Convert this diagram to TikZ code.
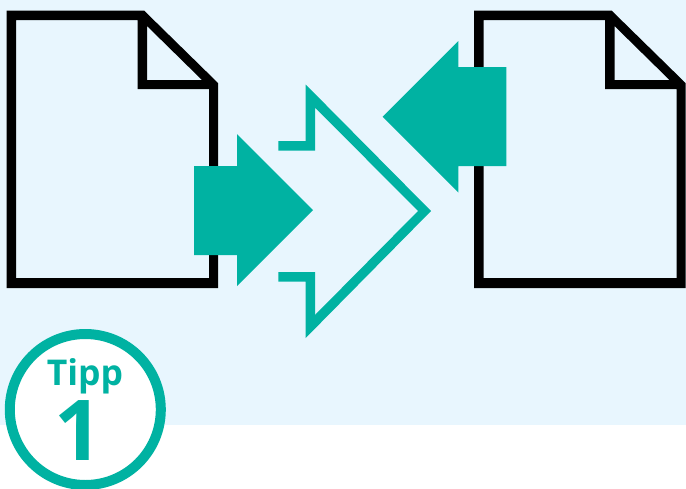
\documentclass[tikz,border=0pt]{standalone}
\usepackage{fontspec}
\setmainfont{Open Sans}
\definecolor{teal1}{HTML}{00B2A2}
\definecolor{sky1}{HTML}{E8F6FE}
\tikzset{
  x=1pt,y=-1pt,
  tealfill/.style={fill=teal1,draw=none},
  docline/.style={fill=black,draw=none,even odd rule},
}
\newcommand{\docshape}[1]{%
  \fill[docline,shift={(#1,0)}]
    (6.5,10.5)--(144,10.5)--(218,83)--(218,288)--(6.5,288)--cycle
    (16,20)--(137.5,20)--(137.5,89)--(209,89)--(209,278)--(16,278)--cycle
    (147,26)--(147,80)--(202,80)--cycle;}
\begin{document}
\begin{tikzpicture}
\useasboundingbox (0,0) rectangle (686,488);
\fill[white] (0,0) rectangle (686,488);
\fill[sky1] (0,0) rectangle (686,425);
\docshape{0}
\docshape{467.5}
\fill[tealfill] (194,166)--(237,166)--(237,134)--(313,210)--(237,286)--(237,255)--(194,255)--cycle;
\fill[tealfill] (506.3,67)--(458.3,67)--(458.3,41)--(382.7,116.7)--(458.3,192.5)--(458.3,166)--(506.3,166)--cycle;
\fill[tealfill] (278.3,141)--(305.7,141)--(305.7,84.5)--(431,211)--(305.7,338)--(305.7,281.7)--(278.3,281.7)--(278.3,272)--(315,272)--(315,315)--(418,211)--(315,107.5)--(315,150.7)--(278.3,150.7)--cycle;
\draw[teal1,line width=10pt,fill=white] (85.3,409.5) circle[radius=75.5];
\node[teal1,inner sep=0pt,anchor=base,font=\fontsize{35.5}{36}\selectfont\bfseries] (tipp) at (85,385.5) {Tipp};
\node[teal1,inner sep=0pt,anchor=base,font=\fontsize{84}{84}\selectfont\bfseries] (one) at (78,460) {1};
\end{tikzpicture}
\end{document}
